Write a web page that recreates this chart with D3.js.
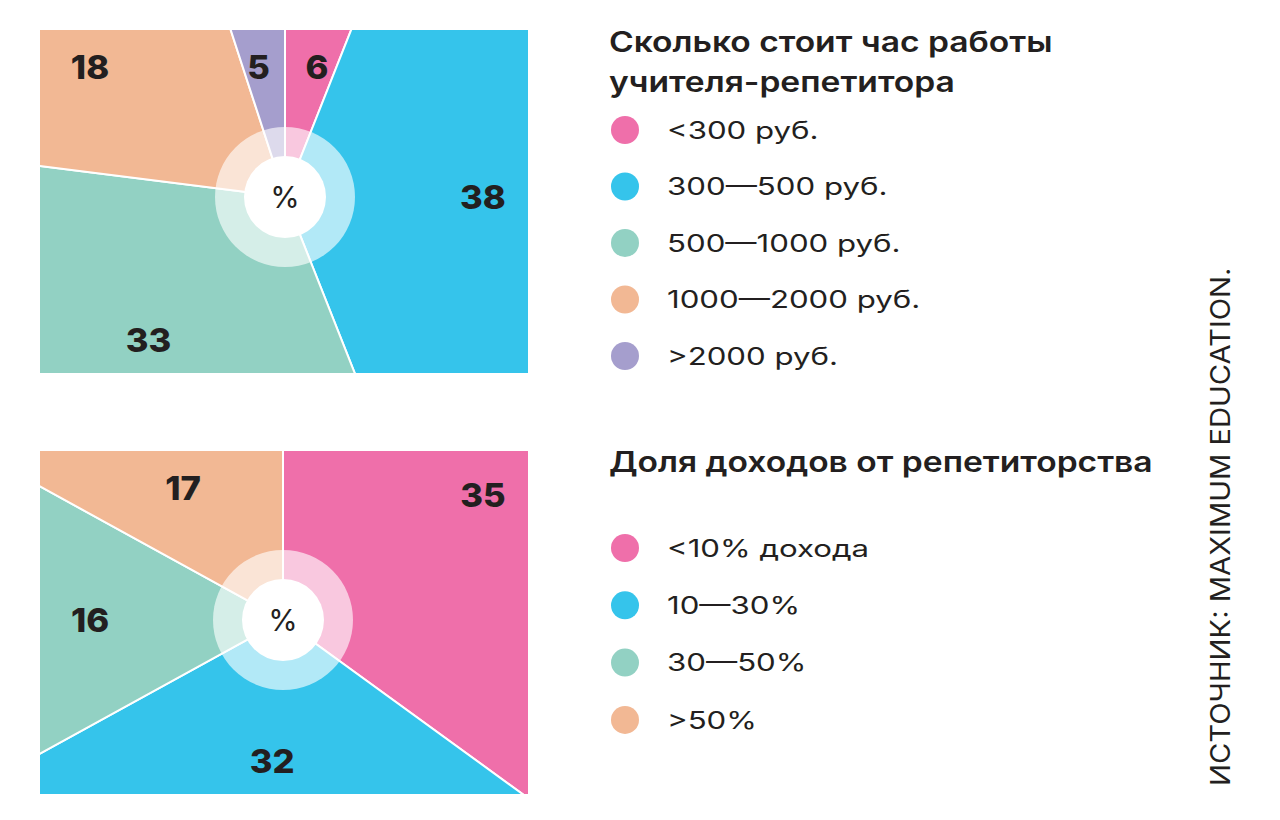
<!DOCTYPE html>
<html><head><meta charset="utf-8">
<script src="https://cdn.jsdelivr.net/npm/d3@7"></script>
<style>body{margin:0;background:#fff}svg{display:block}</style>
</head><body>
<svg id="chart" width="1280" height="820"></svg>
<script>
// ---- data ----
const priceTitle = ["Сколько стоит час работы", "учителя-репетитора"];
const priceCategories = ["<300 руб.", "300—500 руб.", "500—1000 руб.", "1000—2000 руб.", ">2000 руб."];
const priceValues = [6, 38, 33, 18, 5];

const shareTitle = ["Доля доходов от репетиторства"];
const shareCategories = ["<10% дохода", "10—30%", "30—50%", ">50%"];
const shareValues = [35, 32, 16, 17];

const palette = ["#EF6FAA", "#35C4EB", "#92D1C3", "#F2B894", "#A59ECD"];
const sourceText = "ИСТОЧНИК: MAXIMUM EDUCATION.";

// ---- drawing ----
const svg = d3.select("#chart");
const ink = "#231F20";
const fontFam = "Inter, 'Noto Sans', sans-serif";

// text with a horizontal stretch to mimic the wide geometric typeface
function addText(x, y, txt, o) {
  return svg.append("text")
    .attr("transform", `translate(${x},${y}) rotate(${o.rotate || 0}) scale(${o.sx || 1},1)`)
    .attr("text-anchor", o.anchor || "start")
    .attr("dy", o.dy || null)
    .attr("font-family", fontFam).attr("font-size", o.size).attr("font-weight", o.weight || 400)
    .attr("fill", ink).text(txt);
}

function drawPie(id, values, rect, cx, cy) {
  const color = d3.scaleOrdinal().domain(d3.range(values.length)).range(palette);
  const pie = d3.pie().sort(null).value(d => d)(values);
  const bigArc = d3.arc().innerRadius(0).outerRadius(700);

  svg.append("clipPath").attr("id", id).append("rect")
    .attr("x", rect.x0).attr("y", rect.y0)
    .attr("width", rect.x1 - rect.x0).attr("height", rect.y1 - rect.y0);

  const g = svg.append("g").attr("clip-path", `url(#${id})`);
  const gc = g.append("g").attr("transform", `translate(${cx},${cy})`);
  gc.selectAll("path.slice").data(pie).join("path")
    .attr("class", "slice")
    .attr("d", bigArc)
    .attr("fill", (d, i) => color(i))
    .attr("stroke", "#fff").attr("stroke-width", 2);
  gc.append("circle").attr("r", 70).attr("fill", "#fff").attr("fill-opacity", 0.62);
  gc.append("circle").attr("r", 41).attr("fill", "#fff");
  addText(cx, cy, "%", {size: 30, anchor: "middle", dy: "0.35em"});

  // labels: along mid-angle ray to rect edge, clamped inward
  const inset = {x0: rect.x0 + 50, x1: rect.x1 - 45, y0: rect.y0 + 37, y1: rect.y1 - 33};
  pie.forEach(d => {
    const a = (d.startAngle + d.endAngle) / 2;
    const dx = Math.sin(a), dy = -Math.cos(a);
    const ts = [];
    if (dx > 1e-6) ts.push((rect.x1 - cx) / dx);
    if (dx < -1e-6) ts.push((rect.x0 - cx) / dx);
    if (dy > 1e-6) ts.push((rect.y1 - cy) / dy);
    if (dy < -1e-6) ts.push((rect.y0 - cy) / dy);
    const t = Math.min(...ts);
    let px = cx + t * dx, py = cy + t * dy;
    px = Math.max(inset.x0, Math.min(inset.x1, px));
    py = Math.max(inset.y0, Math.min(inset.y1, py));
    addText(px, py, d.data, {size: 33, weight: 800, anchor: "middle", dy: "0.36em", sx: 1.05});
  });
}

function drawLegend(titleLines, titleY, cats, legY0, step) {
  titleLines.forEach((t, i) => {
    addText(609, titleY + i * 40, t, {size: 28, weight: 600, sx: 1.2});
  });
  const y = d3.scalePoint().domain(cats).range([legY0, legY0 + step * (cats.length - 1)]);
  cats.forEach((c, i) => {
    svg.append("circle").attr("cx", 625).attr("cy", y(c)).attr("r", 14).attr("fill", palette[i]);
    addText(667, y(c), c, {size: 24, dy: "0.36em", sx: 1.3});
  });
}

drawPie("clipTop", priceValues, {x0: 40, y0: 30, x1: 528, y1: 373}, 285, 197);
drawPie("clipBot", shareValues, {x0: 40, y0: 451, x1: 528, y1: 794}, 283, 620);

drawLegend(priceTitle, 52, priceCategories, 130, 56.5);
drawLegend(shareTitle, 472, shareCategories, 548, 57.3);

addText(1230, 786, sourceText, {size: 27, rotate: -90, sx: 1.08});
</script>
</body></html>
